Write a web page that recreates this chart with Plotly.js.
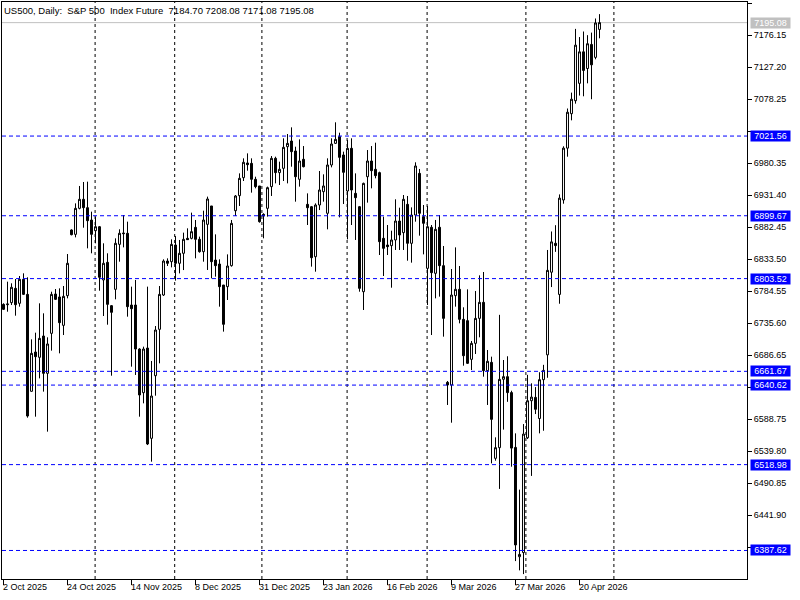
<!DOCTYPE html>
<html>
<head>
<meta charset="utf-8">
<script src="https://cdn.plot.ly/plotly-3.0.1.min.js"></script>
<style>html,body{margin:0;padding:0;background:#fff;}#chart{width:800px;height:600px;}</style>
</head>
<body>
<div id="chart"></div>
<script>
// ---- data ----
const openV = [6764.1,6763.6,6766.7,6788.6,6765.7,6802.4,6779.4,6631.1,6691.2,6683.1,
6715.7,6658.6,6719.8,6779.9,6775.4,6732.0,6777.4,6877.9,6871.2,6911.0,
6924.8,6912.0,6893.1,6876.8,6882.9,6801.4,6828.4,6762.1,6787.1,6855.9,
6873.3,6872.8,6763.1,6763.1,6695.8,6629.0,6697.3,6559.2,6655.0,6725.9,
6778.4,6830.4,6829.4,6854.9,6826.9,6842.2,6865.1,6865.1,6881.9,6863.6,
6844.7,6886.5,6914.6,6831.9,6825.8,6793.7,6791.2,6823.3,6907.4,6930.4,
6957.9,6980.4,6979.8,6955.4,6945.2,6901.8,6911.0,6944.2,6987.5,6965.6,
6972.2,7005.3,7014.0,6998.7,6955.4,6986.0,6917.1,6913.5,6837.0,6916.1,
6936.5,6903.4,6977.3,7010.4,7020.6,6992.6,6937.5,7002.8,6933.9,6913.5,
6783.5,6959.4,6983.4,6970.7,6965.6,6865.1,6854.9,6853.9,6862.6,6891.6,
6873.8,6917.1,6857.5,6900.8,6964.5,6898.3,6819.2,6882.0,6811.6,6882.0,
6823.3,6644.8,6640.8,6777.4,6787.1,6741.2,6739.2,6680.0,6704.5,6742.7,
6767.2,6662.7,6675.4,6528.6,6544.9,6649.5,6653.5,6629.1,6545.3,6378.1,
6384.4,6560.0,6616.7,6621.8,6589.5,6648.9,6686.9,6813.3,6857.5,6779.3,
6923.8,7003.1,7055.8,7075.6,7102.2,7150.4,7124.9,7161.7,7141.9,7184.70];
const highV = [6765.7,6798.8,6796.3,6802.9,6807.5,6811.6,6805.5,6710.6,6720.8,6765.7,
6750.4,6713.7,6783.5,6787.6,6788.6,6792.2,6841.1,6878.9,6918.6,6945.2,
6951.3,6951.8,6905.9,6898.3,6884.0,6857.5,6842.2,6763.1,6865.1,6878.9,
6900.8,6890.6,6791.2,6801.4,6697.0,6699.4,6791.2,6677.5,6731.0,6792.2,
6833.0,6834.5,6863.6,6868.6,6862.6,6873.8,6880.4,6904.4,6893.2,6867.7,
6907.4,6928.9,6914.6,6871.2,6833.0,6793.7,6840.6,6893.2,6931.4,6964.5,
6987.5,6995.1,6987.5,6959.4,6945.2,6903.4,6944.2,6991.0,6990.0,6982.4,
7018.1,7024.7,7034.9,7005.3,7016.5,7006.3,6933.9,6914.6,6918.6,6968.1,
6963.0,6987.5,7018.1,7042.6,7026.7,6997.7,7015.5,7018.1,6964.5,6914.6,
6950.3,7000.2,7006.3,7011.4,6967.1,6898.3,6885.5,6876.8,6924.8,6912.0,
6931.4,6929.9,6912.5,6981.4,6971.2,6916.1,6914.6,6885.5,6893.2,6900.8,
6853.4,6646.9,6818.2,6851.3,6822.8,6759.6,6787.1,6708.1,6784.5,6808.5,
6813.6,6694.3,6684.1,6560.7,6748.1,6679.0,6684.7,6632.0,6566.8,6480.7,
6581.0,6656.3,6643.3,6637.6,6660.3,6671.6,6847.3,6875.6,6885.2,6932.3,
7005.9,7063.7,7088.0,7185.5,7173.0,7181.5,7175.9,7179.8,7201.4,7208.08];
const lowV = [6755.5,6752.9,6763.1,6746.8,6760.6,6778.4,6590.8,6630.6,6592.3,6650.9,
6630.6,6569.4,6693.3,6770.8,6689.2,6717.2,6773.3,6869.7,6866.6,6909.5,
6881.4,6849.8,6842.2,6857.5,6785.0,6746.3,6733.0,6655.0,6771.8,6829.4,
6851.3,6745.3,6668.8,6656.1,6592.3,6612.7,6548.9,6523.5,6624.4,6673.9,
6776.9,6822.8,6820.7,6800.4,6811.5,6816.6,6862.6,6863.6,6834.5,6843.2,
6829.4,6816.7,6803.9,6806.5,6760.6,6722.4,6770.8,6821.8,6899.3,6914.6,
6952.8,6968.6,6935.0,6941.6,6889.1,6865.1,6898.3,6929.9,6949.2,6946.7,
6952.8,6949.2,6974.7,6921.2,6944.2,6973.7,6885.5,6821.8,6814.1,6908.4,
6921.2,6878.9,6973.7,7009.4,6897.2,6917.6,6863.6,6885.5,6862.6,6783.5,
6755.5,6919.7,6941.6,6956.9,6839.6,6807.5,6839.6,6789.6,6847.3,6847.3,
6847.3,6830.9,6827.9,6890.6,6869.2,6840.6,6763.1,6717.2,6773.3,6775.9,
6714.7,6610.2,6583.1,6760.6,6735.1,6670.3,6672.9,6663.7,6688.2,6713.7,
6653.5,6610.2,6520.9,6525.0,6481.8,6572.5,6615.0,6515.8,6371.4,6357.2,
6351.5,6558.3,6501.7,6596.3,6566.8,6570.8,6651.8,6790.6,6844.4,6765.1,
6918.1,6990.0,7045.6,7071.1,7083.5,7082.4,7102.2,7077.9,7139.0,7171.08];
const closeV = [6756.5,6764.6,6790.2,6763.6,6802.4,6779.4,6593.3,6689.2,6684.1,6712.1,
6658.6,6703.5,6779.4,6771.8,6736.1,6776.4,6826.9,6870.7,6911.0,6924.8,
6912.0,6892.1,6871.2,6882.9,6805.5,6826.9,6764.1,6751.9,6857.5,6872.8,
6872.3,6760.6,6757.5,6695.8,6625.5,6695.8,6550.5,6623.9,6724.9,6779.4,
6830.4,6826.9,6855.9,6826.9,6842.2,6863.6,6863.1,6875.3,6863.6,6844.7,
6893.1,6925.3,6829.4,6823.3,6791.2,6733.6,6822.8,6888.0,6929.9,6956.9,
6981.4,6977.8,6955.4,6944.2,6890.6,6899.3,6942.6,6987.5,6965.6,6970.7,
7004.3,7010.4,6997.7,6959.4,6983.4,6974.7,6912.0,6835.5,6916.1,6939.1,
6945.2,6977.3,7009.4,7016.5,6989.0,6966.1,7002.8,6939.0,6927.3,6788.6,
6949.2,6983.4,6968.6,6961.0,6860.0,6849.8,6852.4,6862.6,6891.6,6870.2,
6924.8,6857.5,6900.8,6975.8,6903.4,6888.1,6882.9,6812.6,6878.9,6823.3,
6742.7,6640.8,6778.4,6787.1,6741.2,6685.6,6673.9,6704.5,6742.7,6767.2,
6662.7,6677.0,6588.2,6544.9,6649.4,6653.5,6629.1,6544.2,6396.1,6381.6,
6565.7,6616.7,6622.3,6603.6,6648.9,6663.1,6816.1,6859.7,6854.0,6926.6,
7003.1,7058.0,7077.9,7160.6,7150.4,7122.0,7162.8,7130.5,7194.6,7195.08];

const titleText = "US500, Daily:  S&P 500  Index Future  7184.70 7208.08 7171.08 7195.08";
const yTickValues = [7225.10,7176.15,7127.20,7078.25,7029.30,6980.35,6931.40,6882.45,6833.50,
  6784.55,6735.60,6686.65,6637.70,6588.75,6539.80,6490.85,6441.90,6392.95];
const xTickBars = [0,16,32,48,64,80,96,112,128,144];
const xTickLabels = ["2 Oct 2025","24 Oct 2025","14 Nov 2025","8 Dec 2025","31 Dec 2025",
  "23 Jan 2026","16 Feb 2026","9 Mar 2026","27 Mar 2026","20 Apr 2026"];
const levelLines = [7021.56, 6899.67, 6803.52, 6661.67, 6640.62, 6518.98, 6387.62];
const priceLine = 7195.08;
const monthSepBars = [22.9, 42.8, 64.6, 85.9, 105.9, 130.6, 152.6];

// ---- chart ----
const xIdx = openV.map((_, i) => i);
const FONT = "Liberation Sans, Arial, sans-serif";

// a price-scale label is left out where a level label box covers it (as in the reference)
const yTickText = yTickValues.map(v =>
  levelLines.some(l => Math.abs(l - v) < 10) ? '' : v.toFixed(2));

const trace = {
  type: 'candlestick',
  x: xIdx, open: openV, high: highV, low: lowV, close: closeV,
  increasing: {line: {color: '#000000', width: 1}, fillcolor: '#ffffff'},
  decreasing: {line: {color: '#000000', width: 1}, fillcolor: '#000000'},
  whiskerwidth: 0,
  hoverinfo: 'skip',
  showlegend: false
};

const shapes = [];
monthSepBars.forEach(b => shapes.push({
  type: 'line', xref: 'x', yref: 'paper', x0: b, x1: b, y0: 0, y1: 1,
  line: {color: '#000000', width: 1, dash: '3px,3px'}, layer: 'below'
}));
levelLines.forEach(v => shapes.push({
  type: 'line', xref: 'paper', yref: 'y', x0: 0, x1: 1, y0: v, y1: v,
  line: {color: '#0000ff', width: 1, dash: '4px,3px'}, layer: 'above'
}));
shapes.push({
  type: 'line', xref: 'paper', yref: 'y', x0: 0, x1: 1, y0: priceLine, y1: priceLine,
  line: {color: '#c0c0c0', width: 1}, layer: 'below'
});

const annotations = [];
annotations.push({
  xref: 'paper', yref: 'paper', x: 0, y: 1, xanchor: 'left', yanchor: 'top',
  xshift: 1, yshift: -2, showarrow: false, borderpad: 0,
  text: titleText.replace(/  /g, ' \u00a0'),
  font: {family: FONT, size: 9.5, color: '#000000'}
});
xTickBars.forEach((b, i) => annotations.push({
  xref: 'x', yref: 'paper', x: b, y: 0, xanchor: 'left', yanchor: 'top',
  xshift: -2, yshift: -2, showarrow: false, borderpad: 0,
  text: xTickLabels[i], font: {family: FONT, size: 9, color: '#000000'}
}));
levelLines.forEach(v => annotations.push({
  xref: 'paper', yref: 'y', x: 1, y: v, xanchor: 'left', yanchor: 'middle',
  xshift: 3, showarrow: false, borderpad: 0, width: 39, height: 10,
  bgcolor: '#0000ff', text: v.toFixed(2),
  font: {family: FONT, size: 9, color: '#ffffff'}
}));
annotations.push({
  xref: 'paper', yref: 'y', x: 1, y: priceLine, xanchor: 'left', yanchor: 'middle',
  xshift: 3, showarrow: false, borderpad: 0, width: 39, height: 10,
  bgcolor: '#c0c0c0', text: priceLine.toFixed(2),
  font: {family: FONT, size: 9, color: '#ffffff'}
});

const layout = {
  width: 800, height: 600,
  margin: {l: 2, r: 53, t: 2, b: 21, pad: 0},
  paper_bgcolor: '#ffffff', plot_bgcolor: '#ffffff',
  showlegend: false,
  boxgap: 0.3,
  xaxis: {
    range: [-0.375, 185.875], showgrid: false, zeroline: false,
    showline: true, mirror: true, linecolor: '#000000', linewidth: 1,
    tickmode: 'array', tickvals: xTickBars, ticks: 'outside', ticklen: 5,
    tickcolor: '#000000', showticklabels: false,
    rangeslider: {visible: false}, fixedrange: true
  },
  yaxis: {
    side: 'right', range: [6344.0, 7226.63], showgrid: false, zeroline: false,
    showline: true, mirror: true, linecolor: '#000000', linewidth: 1,
    tickmode: 'array', tickvals: yTickValues, ticktext: yTickText,
    ticks: 'outside', ticklen: 4, tickcolor: '#000000',
    tickfont: {family: FONT, size: 9, color: '#000000'}, fixedrange: true
  },
  shapes: shapes,
  annotations: annotations
};

Plotly.newPlot('chart', [trace], layout, {displayModeBar: false, staticPlot: true});
</script>
</body>
</html>
